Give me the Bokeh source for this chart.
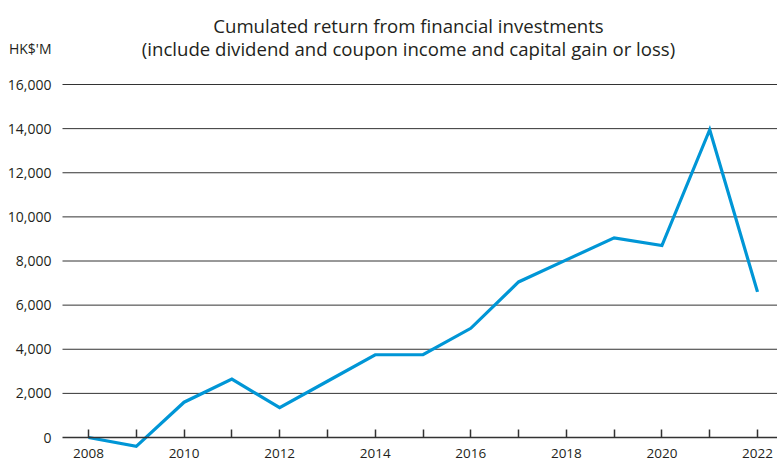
from bokeh.plotting import figure
from bokeh.models import FixedTicker, NumeralTickFormatter, Label, LinearAxis, Range1d
from bokeh.embed import file_html
from bokeh.resources import INLINE

years = list(range(2008, 2023))
returns = [0, -400, 1600, 2650, 1350, 2550, 3750, 3750, 4950, 7050, 8050, 9050, 8700, 13950, 6600]
y_ticks = [0, 2000, 4000, 6000, 8000, 10000, 12000, 14000, 16000]
grid_values = y_ticks[1:]
title_lines = ["Cumulated return from financial investments",
               "(include dividend and coupon income and capital gain or loss)"]
unit_label = "HK$'M"

FONT = "Open Sans"
TXT = "#231f20"
W, H = 777, 463
# pixel mapping
px_per_year = (757 - 88) / 14
val_per_px = 16000 / (437 - 84)
x_start = 2008 - 88 / px_per_year
x_end = 2022 + (W - 757) / px_per_year
y_start = -(H - 437) * val_per_px
y_end = 16000 + 84 * val_per_px

def px_x(px):
    return x_start + px / px_per_year

def px_y(py):
    return (437 - py) * val_per_px

p = figure(width=W, height=H, output_backend="svg", toolbar_location=None,
           x_range=Range1d(x_start, x_end), y_range=Range1d(y_start, y_end),
           x_axis_location=None, y_axis_location=None, min_border=0)
p.outline_line_color = None
p.background_fill_color = "white"
p.border_fill_color = "white"
p.xgrid.visible = False
p.ygrid.visible = False

# horizontal grid lines starting at the plot's left edge
p.segment(x0=px_x(62), x1=x_end, y0=grid_values, y1=grid_values,
          line_color="#333333", line_width=1)

yaxis = LinearAxis(ticker=FixedTicker(ticks=y_ticks), fixed_location=px_x(62),
                   formatter=NumeralTickFormatter(format="0,0"))
yaxis.axis_line_color = None
yaxis.major_tick_line_color = None
yaxis.minor_tick_line_color = None
yaxis.major_tick_in = 0
yaxis.major_tick_out = 0
yaxis.major_label_standoff = 11
yaxis.major_label_text_font = FONT
yaxis.major_label_text_font_size = "14px"
yaxis.major_label_text_color = TXT
p.add_layout(yaxis, "left")

xaxis = LinearAxis(ticker=FixedTicker(ticks=years), fixed_location=0,
                   bounds=(px_x(62), x_end))
xaxis.major_label_overrides = {y: (str(y) if y % 2 == 0 else "") for y in years}
xaxis.axis_line_color = "#333333"
xaxis.axis_line_width = 1.5
xaxis.major_tick_line_color = "#333333"
xaxis.major_tick_line_width = 1.5
xaxis.major_tick_in = 8
xaxis.major_tick_out = 0
xaxis.minor_tick_line_color = None
xaxis.major_label_standoff = 11
xaxis.major_label_text_font = FONT
xaxis.major_label_text_font_size = "13.5px"
xaxis.major_label_text_color = TXT
p.add_layout(xaxis, "below")

p.line(years, returns, line_color="#0096d6", line_width=3.2, line_join="miter")

for i, t in enumerate(title_lines):
    p.add_layout(Label(x=px_x(408), y=px_y(25 + 23 * i), text=t, text_font=FONT,
                       text_font_size="18.6px", text_color=TXT, text_align="center",
                       text_baseline="alphabetic"))

p.add_layout(Label(x=px_x(51), y=px_y(48), text=unit_label, text_font=FONT,
                   text_font_size="14px", text_color=TXT, text_align="right",
                   text_baseline="alphabetic"))

open("out.html", "w").write(file_html(p, INLINE))
